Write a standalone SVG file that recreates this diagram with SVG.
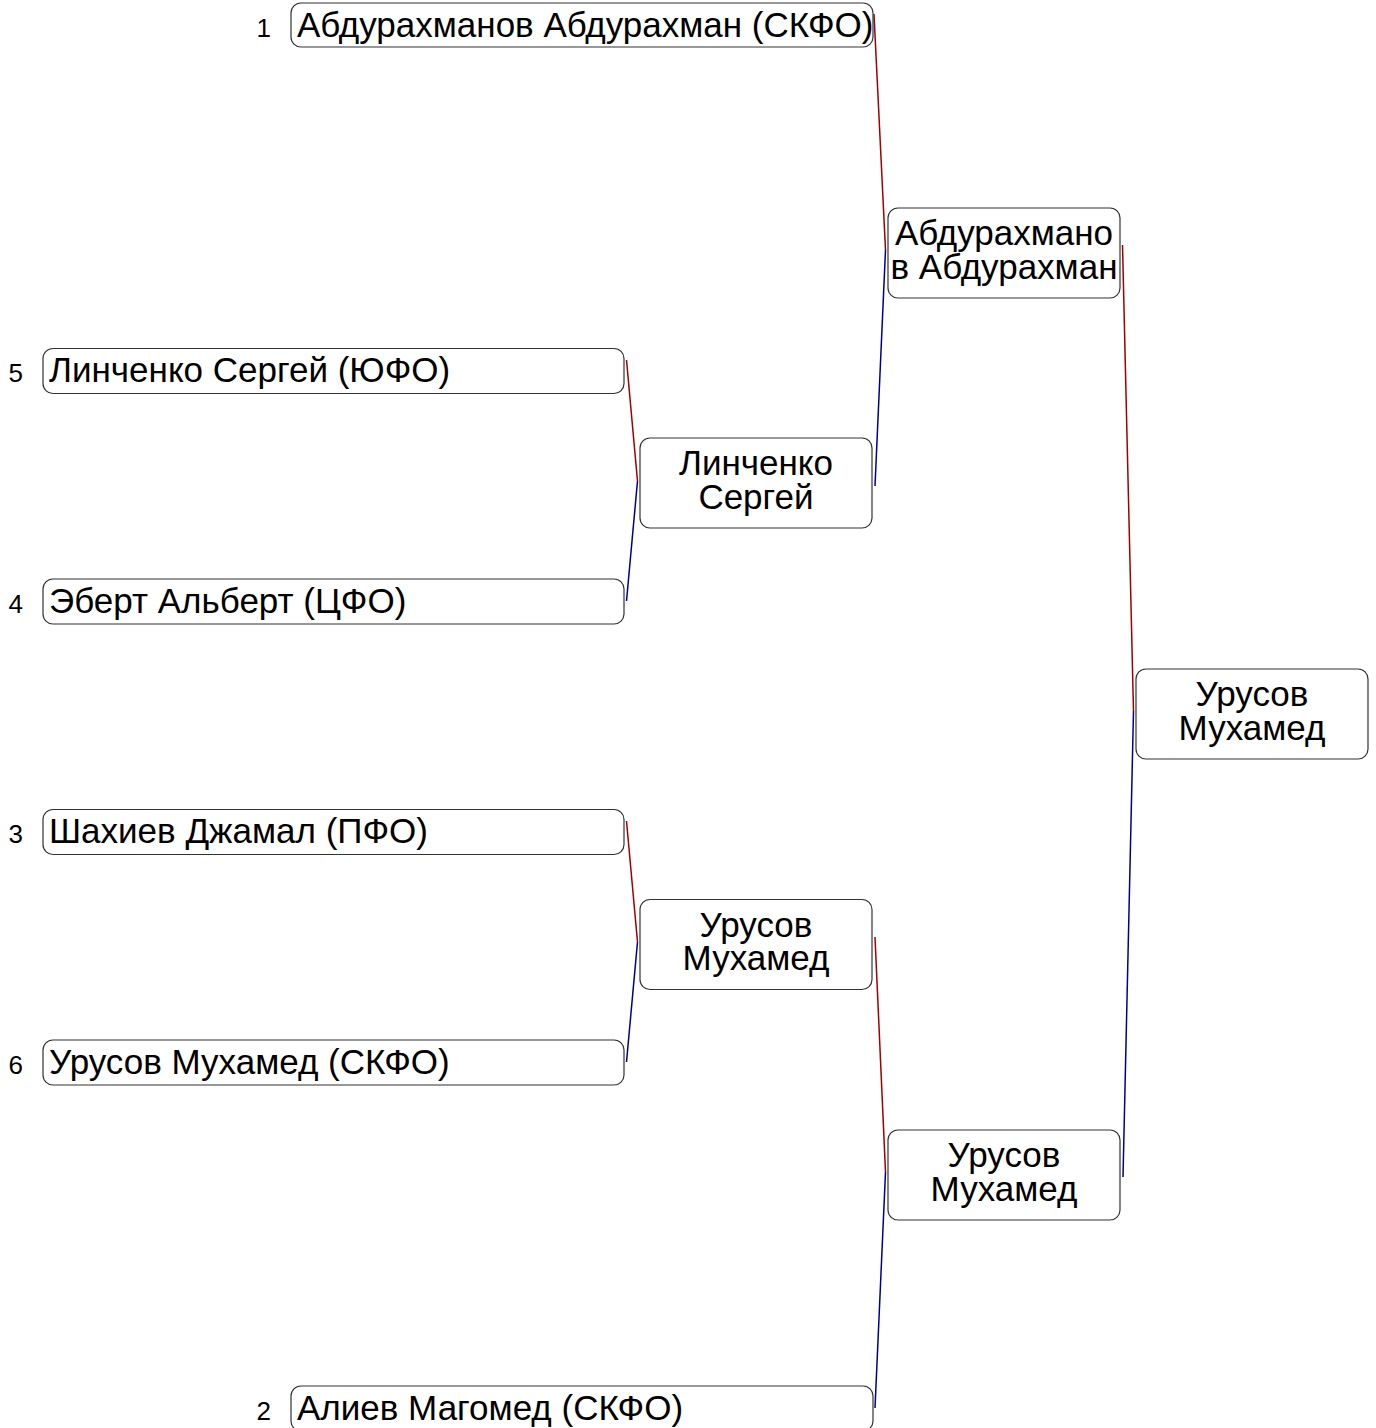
<svg xmlns="http://www.w3.org/2000/svg" width="1376" height="1428" viewBox="0 0 1376 1428">
<style>
.box{fill:#fff;stroke:#333;stroke-width:1.2}
.t{font-family:"Liberation Sans",Arial,sans-serif;font-size:35px;fill:#000}
.c{text-anchor:middle}
.n{font-family:"Liberation Sans",Arial,sans-serif;font-size:26px;fill:#000;text-anchor:end}
.r{stroke:#a00000;stroke-width:1.5;fill:none}
.b{stroke:#000090;stroke-width:1.5;fill:none}
</style>
<rect width="1376" height="1428" fill="#fff"/>
<g id="connectors">
<line class="r" x1="874" y1="14" x2="885.5" y2="250"/>
<line class="b" x1="885.5" y1="250" x2="875" y2="486"/>
<line class="r" x1="626.5" y1="360" x2="637.5" y2="481"/>
<line class="b" x1="637.5" y1="481" x2="626.5" y2="601"/>
<line class="r" x1="626.5" y1="821" x2="637.5" y2="942"/>
<line class="b" x1="637.5" y1="942" x2="626.5" y2="1062"/>
<line class="r" x1="875" y1="937" x2="885.5" y2="1172"/>
<line class="b" x1="885.5" y1="1172" x2="875" y2="1408"/>
<line class="r" x1="1122.5" y1="245" x2="1133.5" y2="711"/>
<line class="b" x1="1133.5" y1="711" x2="1123" y2="1177"/>
</g>
<g id="p1"><text class="n" x="271" y="37">1</text><rect class="box" x="291" y="3" width="582" height="44" rx="10"/><text class="t" x="297" y="37">Абдурахманов Абдурахман (СКФО)</text></g>
<g id="p5"><text class="n" x="23" y="382">5</text><rect class="box" x="43" y="348.5" width="581" height="45" rx="10"/><text class="t" x="49" y="382">Линченко Сергей (ЮФО)</text></g>
<g id="p4"><text class="n" x="23" y="613">4</text><rect class="box" x="43" y="579" width="581" height="45" rx="10"/><text class="t" x="49" y="613">Эберт Альберт (ЦФО)</text></g>
<g id="p3"><text class="n" x="23" y="843">3</text><rect class="box" x="43" y="809.5" width="581" height="45" rx="10"/><text class="t" x="49" y="843">Шахиев Джамал (ПФО)</text></g>
<g id="p6"><text class="n" x="23" y="1074">6</text><rect class="box" x="43" y="1040" width="581" height="45" rx="10"/><text class="t" x="49" y="1074">Урусов Мухамед (СКФО)</text></g>
<g id="p2"><text class="n" x="271" y="1420">2</text><rect class="box" x="291" y="1386" width="582" height="45" rx="10"/><text class="t" x="297" y="1420">Алиев Магомед (СКФО)</text></g>
<g id="m1"><rect class="box" x="640" y="438" width="232" height="90" rx="10"/><text class="t c" x="756" y="475">Линченко</text><text class="t c" x="756" y="509">Сергей</text></g>
<g id="m2"><rect class="box" x="640" y="899.5" width="232" height="90" rx="10"/><text class="t c" x="756" y="937">Урусов</text><text class="t c" x="756" y="970">Мухамед</text></g>
<g id="s1"><rect class="box" x="888" y="208" width="232" height="90" rx="10"/><text class="t c" x="1004" y="245">Абдурахмано</text><text class="t c" x="1004" y="279">в Абдурахман</text></g>
<g id="s2"><rect class="box" x="888" y="1130" width="232" height="90" rx="10"/><text class="t c" x="1004" y="1167">Урусов</text><text class="t c" x="1004" y="1201">Мухамед</text></g>
<g id="f"><rect class="box" x="1136" y="669" width="232" height="90" rx="10"/><text class="t c" x="1252" y="706">Урусов</text><text class="t c" x="1252" y="740">Мухамед</text></g>
</svg>
